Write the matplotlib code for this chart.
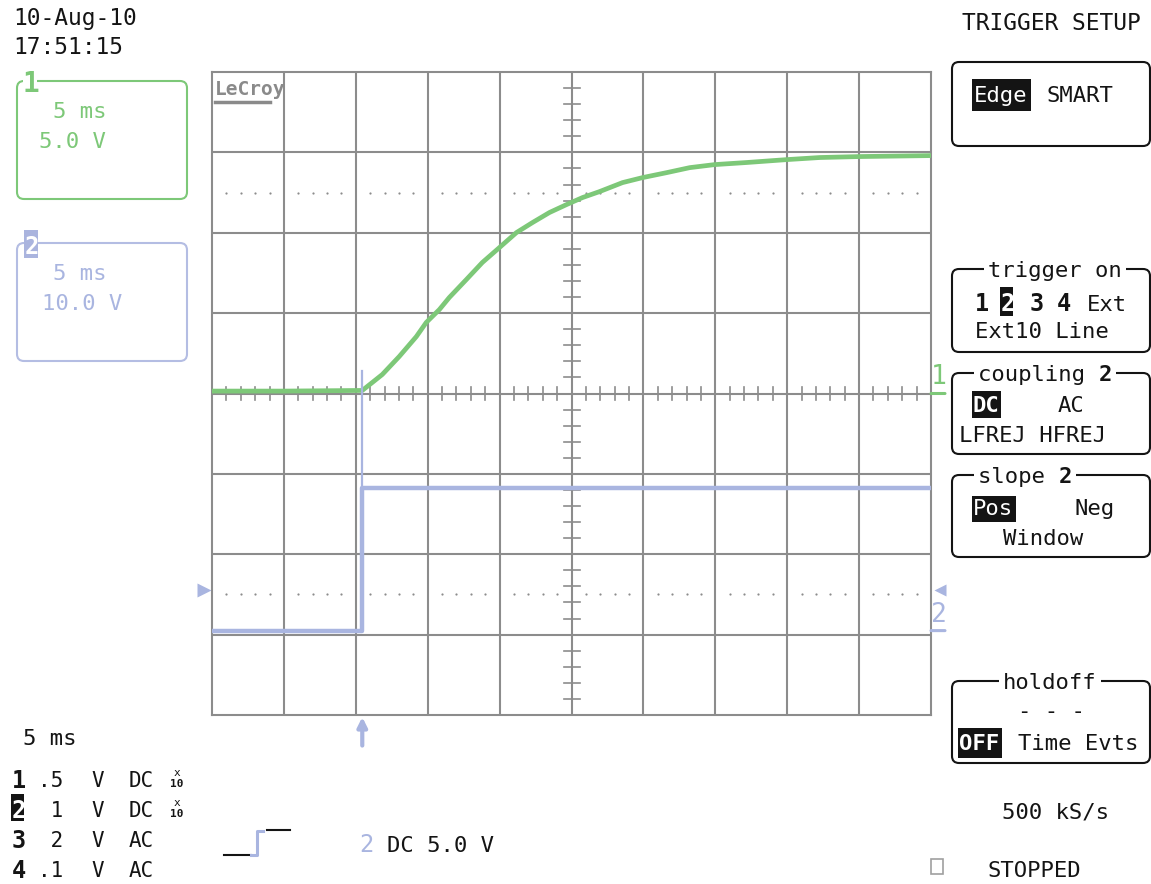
import numpy as np
import matplotlib.pyplot as plt
from matplotlib.patches import FancyBboxPatch, Rectangle
from matplotlib.transforms import offset_copy

# channel 1 trace, time in ms, level in V
ch1_t = [-25.0, -20.0, -14.55, -13.86, -13.16, -11.98, -10.79, -10.10, -9.19, -8.50,
         -7.31, -6.20, -5.01, -3.83, -2.72, -1.53, -0.35, 0.77, 1.95, 3.55,
         4.94, 6.62, 8.22, 9.96, 12.19, 14.97, 17.27, 20.06, 25.0]
ch1_v = [0.15, 0.15, 0.19, 0.68, 1.18, 2.30, 3.54, 4.42, 5.22, 5.97,
         7.09, 8.15, 9.08, 10.01, 10.63, 11.26, 11.75, 12.19, 12.56, 13.12,
         13.43, 13.74, 14.05, 14.24, 14.37, 14.55, 14.68, 14.74, 14.80]

# channel 2 trace (step) and its overshoot spike
ch2_t = [-25.0, -14.55, -14.55, 25.0]
ch2_v = [0.0, 0.0, 17.8, 17.8]
ch2_spike_v = 32.3

ch1_vdiv, ch1_pos = 5.0, 0.0     # V/div, offset in div
ch2_vdiv, ch2_pos = 10.0, -2.95
trig_level = 5.0                 # V on channel 2
trig_time = -14.55               # ms
time_div = 5.0                   # ms/div

GREEN = '#7dc878'
BLUE = '#a9b5e0'
GRID = '#8c8c8c'
BLACK = '#141414'
MONO = 'DejaVu Sans Mono'

W, H = 1151, 884
fig = plt.figure(figsize=(W / 100, H / 100), dpi=100)
fig.patch.set_facecolor('white')

# screen area in pixels
gx0, gx1, gy0, gy1 = 212, 931, 72, 715
ax = fig.add_axes([gx0 / W, 1 - gy1 / H, (gx1 - gx0) / W, (gy1 - gy0) / H])
ax.set_xlim(-5 * time_div, 5 * time_div)
ax.set_ylim(-4, 4)
ax.set_xticks([])
ax.set_yticks([])
for s in ax.spines.values():
    s.set_color(GRID)
    s.set_linewidth(1.5)

# graticule
for k in range(-4, 5):
    ax.axvline(k * time_div, color=GRID, lw=1.5, zorder=1)
for k in range(-3, 4):
    ax.axhline(k, color=GRID, lw=1.5, zorder=1)
minor_t = [t for t in np.arange(-25, 25.01, 1.0) if abs(t % 5) > 1e-6]
minor_y = [y for y in np.arange(-4, 4.01, 0.2) if abs(y - round(y)) > 1e-6]
tlen_x = 8 / 71.9 * time_div
tlen_y = 6.5 / 80.4
for t in minor_t:
    ax.plot([t, t], [-tlen_y, tlen_y], color=GRID, lw=1.2, zorder=1)
for y in minor_y:
    ax.plot([-tlen_x, tlen_x], [y, y], color=GRID, lw=1.2, zorder=1)
ax.plot(minor_t, [2.5] * len(minor_t), ls='none', marker='o', ms=1.6, color=GRID, mec='none')
ax.plot(minor_t, [-2.5] * len(minor_t), ls='none', marker='o', ms=1.6, color=GRID, mec='none')

# traces
c1 = np.array(ch1_v) / ch1_vdiv + ch1_pos
c2 = np.array(ch2_v) / ch2_vdiv + ch2_pos
ax.plot(ch1_t, c1, color=GREEN, lw=3.4, zorder=3)
ax.plot(ch2_t, c2, color=BLUE, lw=3.2, zorder=3)
ax.plot([trig_time, trig_time], [ch2_pos, ch2_spike_v / ch2_vdiv + ch2_pos], color=BLUE, lw=1.6, zorder=3)

# trigger level markers and trigger position arrow
trig_div = trig_level / ch2_vdiv + ch2_pos
tr_left = offset_copy(ax.transData, fig=fig, x=-8, y=0, units='dots')
ax.plot([-25], [trig_div], marker='>', ms=10, color=BLUE, mec='none', transform=tr_left, clip_on=False)
tr_right = offset_copy(ax.transData, fig=fig, x=9, y=0, units='dots')
ax.plot([25], [trig_div], marker='<', ms=8, color=BLUE, mec='none', transform=tr_right, clip_on=False)
ax.annotate('', xy=(trig_time, -4), xycoords='data', xytext=(0, -22), textcoords='offset points',
            arrowprops=dict(arrowstyle='-|>', color=BLUE, lw=3, mutation_scale=14, shrinkA=0, shrinkB=1.5),
            annotation_clip=False)

# ground markers at right edge
for pos, col, lab in [(ch1_pos, GREEN, '1'), (ch2_pos, BLUE, '2')]:
    ax.annotate('', xy=(25, pos), xytext=(14, 0), textcoords='offset pixels',
                arrowprops=dict(arrowstyle='-', color=col, lw=2.2, shrinkA=0, shrinkB=0),
                annotation_clip=False)
    ax.annotate(lab, xy=(25, pos), xytext=(8, 3), textcoords='offset pixels', color=col,
                fontsize=19, family=MONO, ha='center', va='bottom', annotation_clip=False)

# overlay in pixel coordinates for the screen text
ov = fig.add_axes([0, 0, 1, 1])
ov.set_xlim(0, W)
ov.set_ylim(H, 0)
ov.axis('off')


def txt(x, y, s, size=16, color=BLACK, **kw):
    ov.text(x, y, s, fontsize=size, family=MONO, color=color, va='baseline', ha=kw.pop('ha', 'left'), **kw)


def rbox(x0, y0, x1, y1, color=BLACK, lw=1.5):
    ov.add_patch(FancyBboxPatch((x0, y0), x1 - x0, y1 - y0, boxstyle='round,pad=0,rounding_size=7',
                                fill=False, ec=color, lw=lw))


def inv(x0, y0, x1, y1, xt, yt, s, size=16, bold=False, bg=BLACK):
    ov.add_patch(Rectangle((x0, y0), x1 - x0, y1 - y0, color=bg, lw=0))
    txt(xt, yt, s, size=size, color='white', weight='bold' if bold else 'normal')


def title(xc, ytop, parts):
    # box title sitting in a gap of the top border
    s = ''.join(p for p, b in parts)
    wid = len(s) * 13.4
    ov.add_patch(Rectangle((xc - wid / 2 - 4, ytop - 4), wid + 8, 8, color='white', lw=0, zorder=3))
    x = xc - wid / 2
    for p, b in parts:
        txt(x, ytop + 8, p, weight='bold' if b else 'normal', zorder=4)
        x += len(p) * 13.4


# LeCroy logo
ov.text(215, 95, 'LeCroy', fontsize=14, family=MONO, weight='bold', color='#8a8a8a', va='baseline')
ov.plot([215, 270], [102, 102], color='#8a8a8a', lw=2.5)

# date / time
txt(13, 25, '10-Aug-10', size=16.5)
txt(13, 54, '17:51:15', size=16.5)

# channel boxes
rbox(17, 81, 187, 199, GREEN)
ov.add_patch(Rectangle((23, 76), 14, 10, color='white', lw=0, zorder=3))
txt(23, 92, '1', size=20, color=GREEN, weight='bold', zorder=4)
txt(53, 118, '5 ms', color=GREEN)
txt(39, 148, '5.0 V', color=GREEN)

rbox(17, 243, 187, 361, '#b4bde3')
ov.add_patch(Rectangle((24, 230), 14, 28, color='#aab4de', lw=0, zorder=3))
txt(25, 254, '2', size=17, color='white', weight='bold', zorder=4)
txt(53, 280, '5 ms', color=BLUE)
txt(42, 310, '10.0 V', color=BLUE)

# right-hand menu
txt(962, 30, 'TRIGGER SETUP', size=16.5)

rbox(952, 62, 1150, 146)
inv(972, 79, 1031, 111, 974, 102, 'Edge')
txt(1047, 102, 'SMART')

rbox(952, 269, 1150, 352)
title(1055, 269, [('trigger on', False)])
txt(975, 311, '1', weight='bold', size=17)
inv(1000, 287, 1013, 316, 1001, 311, '2', size=17, bold=True)
txt(1030, 311, '3', weight='bold', size=17)
txt(1057, 311, '4', weight='bold', size=17)
txt(1087, 311, 'Ext')
txt(975, 338, 'Ext10 Line')

rbox(952, 373, 1150, 454)
title(1045, 373, [('coupling ', False), ('2', True)])
inv(972, 391, 1001, 418, 973, 412, 'DC', bold=True)
txt(1058, 412, 'AC')
txt(959, 442, 'LFREJ HFREJ')

rbox(952, 475, 1150, 557)
title(1025, 475, [('slope ', False), ('2', True)])
inv(972, 496, 1016, 522, 973, 515, 'Pos')
txt(1075, 515, 'Neg')
txt(1003, 545, 'Window')

rbox(952, 681, 1150, 763)
title(1050, 681, [('holdoff', False)])
txt(1018, 718, '- - -')
inv(958, 728, 1002, 758, 959, 750, 'OFF', bold=True)
txt(1018, 750, 'Time Evts')

txt(1002, 818, '500 kS/s')
ov.add_patch(Rectangle((931, 859), 12, 15, fill=False, ec='#a0a0a0', lw=1.2))
txt(988, 877, 'STOPPED')

# bottom-left channel summary
txt(23, 745, '5 ms')
rows = [('1', '.5', 'DC', True), ('2', ' 1', 'DC', True), ('3', ' 2', 'AC', False), ('4', '.1', 'AC', False)]
for i, (ch, vd, cp, probe) in enumerate(rows):
    yb = 787 + i * 30
    if ch == '2':
        inv(11, yb - 23, 24, yb + 4, 12, yb + 1, ch, size=17, bold=True)
    else:
        txt(12, yb + 1, ch, size=17, weight='bold')
    txt(38, yb, vd, size=15)
    txt(91, yb, 'V', size=15)
    txt(129, yb, cp, size=15)
    if probe:
        ov.text(177, yb - 11, 'x', fontsize=8, family=MONO, color=BLACK, ha='center', va='baseline')
        ov.text(177, yb, '10', fontsize=8, family=MONO, weight='bold', color=BLACK, ha='center', va='baseline')

# trigger icon and level readout
ov.plot([224, 251], [855, 855], color=BLACK, lw=1.5)
ov.plot([251, 257, 257, 263], [855, 855, 831, 831], color=BLUE, lw=2.2)
ov.plot([267, 290], [830, 830], color=BLACK, lw=1.5)
txt(359, 852, '2', color=BLUE, size=17)
txt(387, 852, 'DC 5.0 V')

fig.savefig('out.png', dpi=100, facecolor='white')
